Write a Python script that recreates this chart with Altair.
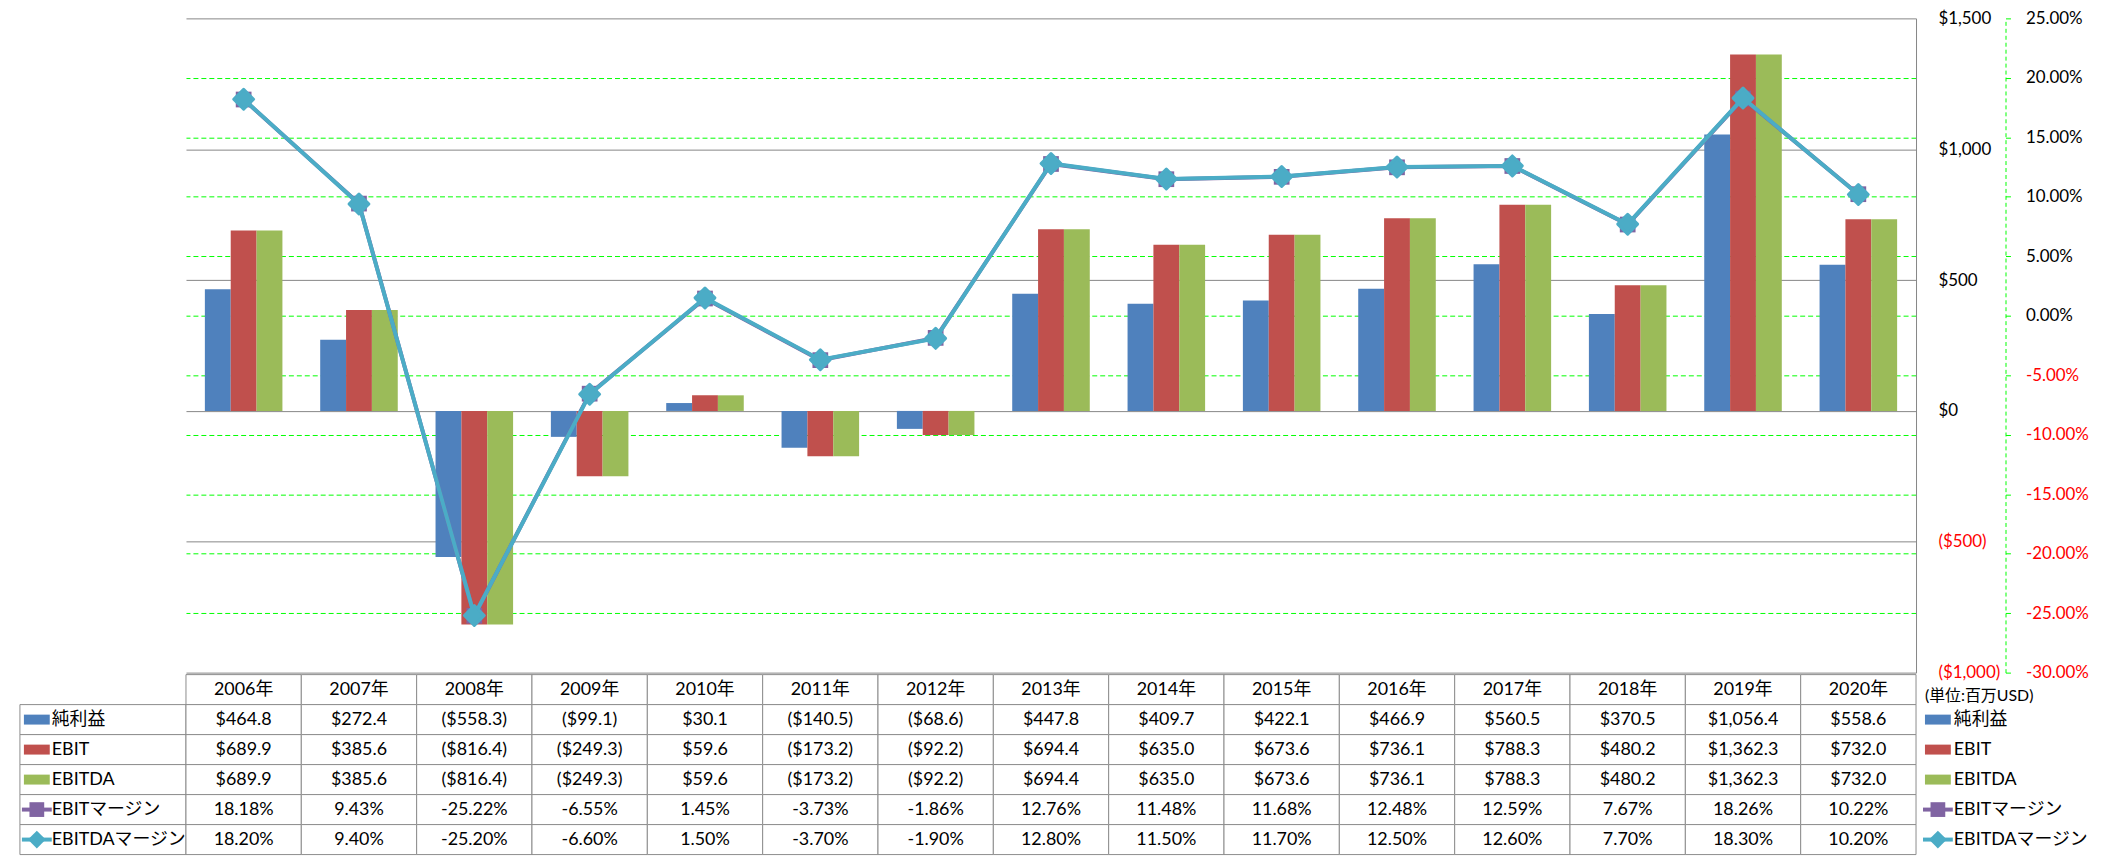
import altair as alt
import pandas as pd

# ---------------- data ----------------
years = [2006, 2007, 2008, 2009, 2010, 2011, 2012, 2013, 2014, 2015, 2016, 2017, 2018, 2019, 2020]
year_labels = [f"{y}年" for y in years]

net_income = [464.8, 272.4, -558.3, -99.1, 30.1, -140.5, -68.6, 447.8, 409.7, 422.1, 466.9, 560.5, 370.5, 1056.4, 558.6]
ebit = [689.9, 385.6, -816.4, -249.3, 59.6, -173.2, -92.2, 694.4, 635.0, 673.6, 736.1, 788.3, 480.2, 1362.3, 732.0]
ebitda = [689.9, 385.6, -816.4, -249.3, 59.6, -173.2, -92.2, 694.4, 635.0, 673.6, 736.1, 788.3, 480.2, 1362.3, 732.0]
ebit_margin = [18.18, 9.43, -25.22, -6.55, 1.45, -3.73, -1.86, 12.76, 11.48, 11.68, 12.48, 12.59, 7.67, 18.26, 10.22]
ebitda_margin = [18.20, 9.40, -25.20, -6.60, 1.50, -3.70, -1.90, 12.80, 11.50, 11.70, 12.50, 12.60, 7.70, 18.30, 10.20]

bar_series = ["純利益", "EBIT", "EBITDA"]
line_series = ["EBITマージン", "EBITDAマージン"]
all_series = bar_series + line_series
series_colors = ["#4F81BD", "#C0504D", "#9BBB59", "#8064A2", "#4BACC6"]

usd_ticks = [-1000, -500, 0, 500, 1000, 1500]
pct_ticks = [-0.30, -0.25, -0.20, -0.15, -0.10, -0.05, 0.0, 0.05, 0.10, 0.15, 0.20, 0.25]
unit_label = "(単位:百万USD)"

# ---------------- tables ----------------
def fmt_usd(v):
    return f"${v:,.1f}" if v >= 0 else f"(${-v:,.1f})"


def fmt_pct(v):
    return f"{v:.2f}%"


bar_df = pd.DataFrame(
    [{"year": yl, "series": s, "value": v}
     for s, vals in zip(bar_series, [net_income, ebit, ebitda])
     for yl, v in zip(year_labels, vals)]
)
line_df = pd.DataFrame(
    [{"year": yl, "series": s, "margin": v / 100.0}
     for s, vals in zip(line_series, [ebit_margin, ebitda_margin])
     for yl, v in zip(year_labels, vals)]
)

HEADER = "年度"
rows = [HEADER] + all_series
cells = [{"year": yl, "row": HEADER, "text": yl} for yl in year_labels]
for s, vals in zip(bar_series, [net_income, ebit, ebitda]):
    cells += [{"year": yl, "row": s, "text": fmt_usd(v)} for yl, v in zip(year_labels, vals)]
for s, vals in zip(line_series, [ebit_margin, ebitda_margin]):
    cells += [{"year": yl, "row": s, "text": fmt_pct(v)} for yl, v in zip(year_labels, vals)]
table_df = pd.DataFrame(cells)

legend_df = pd.DataFrame({"row": all_series, "kind": ["bar"] * 3 + ["line"] * 2})
unit_df = pd.DataFrame({"row": [HEADER], "text": [unit_label]})

# ---------------- style ----------------
W = 1740
H = 658
TH = 181
GRID_GREY = "#868686"
TABLE_GREY = "#8C8C8C"
GREEN = "#00FF00"
FONT = "Lato, Noto Sans CJK JP, sans-serif"

color_scale = alt.Scale(domain=all_series, range=series_colors)

# ---------------- main plot ----------------
x_top = alt.X(
    "year:N", sort=year_labels,
    scale=alt.Scale(domain=year_labels, paddingInner=0.3276, paddingOuter=0.1638),
    axis=None,
)

usd_axis = alt.Axis(
    orient="right", values=usd_ticks, title=None, ticks=False,
    domain=True, domainColor=GRID_GREY, domainWidth=1,
    grid=True, gridColor=GRID_GREY, gridWidth=1,
    labelPadding=22, labelFontSize=17, labelAlign="left",
    labelExpr="datum.value < 0 ? '($' + format(-datum.value, ',') + ')' : '$' + format(datum.value, ',')",
    labelColor={"expr": "datum.value < 0 ? '#FF0000' : '#000000'"},
)

bars = alt.Chart(bar_df).mark_bar().encode(
    x=x_top,
    xOffset=alt.XOffset("series:N", sort=bar_series,
                        scale=alt.Scale(domain=bar_series, paddingInner=0, paddingOuter=0)),
    y=alt.Y("value:Q", scale=alt.Scale(domain=[-1000, 1500], nice=False), axis=usd_axis),
    color=alt.Color("series:N", scale=color_scale, legend=None),
)

pct_axis = alt.Axis(
    orient="right", offset=90, values=pct_ticks, title=None,
    domain=True, domainColor=GREEN, domainDash=[4, 3], domainWidth=1,
    ticks=True, tickColor=GREEN, tickSize=5,
    grid=True, gridDash=[5, 3], gridWidth=1,
    gridColor={"expr": "(datum.value > 0.249 || datum.value < -0.299) ? 'transparent' : '#00FF00'"},
    labelPadding=15, labelFontSize=17, labelAlign="left",
    labelExpr="(datum.value < -0.000001 ? '-' : '') + format(abs(datum.value), '.2%')",
    labelColor={"expr": "datum.value < -0.000001 ? '#FF0000' : '#000000'"},
)
y_pct = alt.Y("margin:Q", scale=alt.Scale(domain=[-0.30, 0.25], nice=False, zero=False), axis=pct_axis)

base_line = alt.Chart(line_df).encode(x=x_top, y=y_pct)
ebit_line = base_line.transform_filter(alt.datum.series == "EBITマージン").mark_line(
    color="#8064A2", strokeWidth=4)
ebit_pts = base_line.transform_filter(alt.datum.series == "EBITマージン").mark_point(
    shape="square", filled=True, size=250, color="#8064A2", opacity=1)
ebitda_line = base_line.transform_filter(alt.datum.series == "EBITDAマージン").mark_line(
    color="#4BACC6", strokeWidth=4)
ebitda_pts = base_line.transform_filter(alt.datum.series == "EBITDAマージン").mark_point(
    shape="diamond", filled=True, size=400, color="#4BACC6", opacity=1,
    stroke="#4BACC6", strokeWidth=3, strokeJoin="round")

lines = alt.layer(ebit_line, ebit_pts, ebitda_line, ebitda_pts)
top = alt.layer(bars, lines).resolve_scale(y="independent").properties(width=W, height=H)


def blank(width, height):
    return alt.Chart(unit_df).mark_point(opacity=0).encode(
        x=alt.value(0), y=alt.value(0)).properties(width=width, height=height)


# ---------------- data table ----------------
x_tab = alt.X("year:N", sort=year_labels,
              scale=alt.Scale(domain=year_labels, paddingInner=0, paddingOuter=0), axis=None)
y_tab = alt.Y("row:N", sort=rows,
              scale=alt.Scale(domain=rows, paddingInner=0, paddingOuter=0), axis=None)

cell_rects = alt.Chart(table_df).mark_rect(fill="white", stroke=TABLE_GREY, strokeWidth=1).encode(
    x=x_tab, y=y_tab)
cell_text = alt.Chart(table_df).mark_text(fontSize=18, color="black", baseline="middle").encode(
    x=x_tab, y=y_tab, text="text:N")
table = alt.layer(cell_rects, cell_text).properties(width=W, height=TH)

RECT_PATH = "M-1.3,-0.5L1.3,-0.5L1.3,0.5L-1.3,0.5Z"
LINE_PATH = "M-1.5,-0.2L1.5,-0.2L1.5,0.2L-1.5,0.2Z"


def legend_column(width, sw_x, text_x, with_cells):
    layers = []
    if with_cells:
        layers.append(
            alt.Chart(legend_df).mark_rect(fill="white", stroke=TABLE_GREY, strokeWidth=1).encode(
                x=alt.value(8), x2=alt.value(width), y=y_tab)
        )
    layers.append(
        alt.Chart(legend_df).transform_filter(alt.datum.kind == "bar").mark_point(
            shape=RECT_PATH, filled=True, size=400, opacity=1).encode(
            x=alt.value(sw_x), y=y_tab, color=alt.Color("row:N", scale=color_scale, legend=None))
    )
    layers.append(
        alt.Chart(legend_df).transform_filter(alt.datum.kind == "line").mark_point(
            shape=LINE_PATH, filled=True, size=400, opacity=1).encode(
            x=alt.value(sw_x), y=y_tab, color=alt.Color("row:N", scale=color_scale, legend=None))
    )
    layers.append(
        alt.Chart(legend_df).transform_filter(alt.datum.row == "EBITマージン").mark_point(
            shape="square", filled=True, size=220, opacity=1, color="#8064A2").encode(
            x=alt.value(sw_x), y=y_tab)
    )
    layers.append(
        alt.Chart(legend_df).transform_filter(alt.datum.row == "EBITDAマージン").mark_point(
            shape="diamond", filled=True, size=320, opacity=1, color="#4BACC6").encode(
            x=alt.value(sw_x), y=y_tab)
    )
    layers.append(
        alt.Chart(legend_df).mark_text(align="left", baseline="middle", fontSize=18, color="black").encode(
            x=alt.value(text_x), y=y_tab, text="row:N")
    )
    return alt.layer(*layers).properties(width=width, height=TH)


left_col = legend_column(175, 25, 40, True)

unit_text = alt.Chart(unit_df).mark_text(align="left", baseline="middle", fontSize=16,
                                         color="black", dy=6).encode(
    x=alt.value(9), y=y_tab, text="text:N")
right_col = alt.layer(legend_column(177, 22, 38, False), unit_text).properties(width=177, height=TH)

chart = alt.concat(
    blank(175, H), top, blank(177, H),
    left_col, table, right_col,
    columns=3, spacing={"row": 2, "column": 0}, bounds="flush",
).properties(
    padding={"left": 0, "right": 0, "top": -2, "bottom": 0}
).configure(font=FONT).configure_view(stroke="transparent")

chart.save("out.html", embed_options={"renderer": "svg", "actions": False})
